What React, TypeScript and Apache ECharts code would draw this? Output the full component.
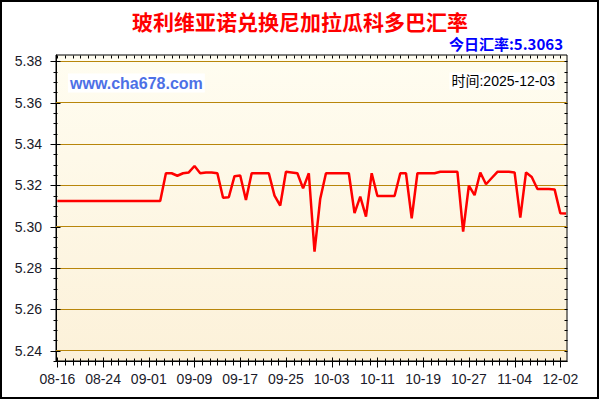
import React, { useEffect, useRef } from 'react';
import * as echarts from 'echarts';

const titleText = '玻利维亚诺兑换尼加拉瓜科多巴汇率';
const todayText = '今日汇率:5.3063';
const siteText = 'www.cha678.com';
const timeText = '时间:2025-12-03';

const dates = [
  '08-16','08-17','08-18','08-19','08-20','08-21','08-22','08-23','08-24','08-25',
  '08-26','08-27','08-28','08-29','08-30','08-31','09-01','09-02','09-03','09-04',
  '09-05','09-06','09-07','09-08','09-09','09-10','09-11','09-12','09-13','09-14',
  '09-15','09-16','09-17','09-18','09-19','09-20','09-21','09-22','09-23','09-24',
  '09-25','09-26','09-27','09-28','09-29','09-30','10-01','10-02','10-03','10-04',
  '10-05','10-06','10-07','10-08','10-09','10-10','10-11','10-12','10-13','10-14',
  '10-15','10-16','10-17','10-18','10-19','10-20','10-21','10-22','10-23','10-24',
  '10-25','10-26','10-27','10-28','10-29','10-30','10-31','11-01','11-02','11-03',
  '11-04','11-25','11-26','11-27','11-28','11-29','11-30','12-01','12-02','12-03',
];

const rates = [
  5.3124,5.3124,5.3124,5.3124,5.3124,5.3124,5.3124,5.3124,5.3124,5.3124,
  5.3124,5.3124,5.3124,5.3124,5.3124,5.3124,5.3124,5.3124,5.3124,5.3258,
  5.3258,5.3246,5.3258,5.3262,5.3293,5.3258,5.3262,5.3262,5.3258,5.3140,
  5.3142,5.3244,5.3247,5.3129,5.3258,5.3258,5.3258,5.3258,5.3150,5.3102,
  5.3265,5.3262,5.3258,5.3185,5.3258,5.2879,5.3135,5.3258,5.3258,5.3258,
  5.3258,5.3258,5.3065,5.3145,5.3048,5.3258,5.3148,5.3148,5.3148,5.3148,
  5.3258,5.3258,5.3040,5.3258,5.3258,5.3258,5.3258,5.3265,5.3265,5.3265,
  5.3265,5.2976,5.3198,5.3152,5.3262,5.3205,5.3235,5.3265,5.3265,5.3265,
  5.3262,5.3043,5.3262,5.3240,5.3182,5.3182,5.3182,5.3180,5.3065,5.3063,
];

const yTickLabels = [5.24, 5.26, 5.28, 5.30, 5.32, 5.34, 5.36, 5.38];
const xLabelIndices = [0, 8, 16, 24, 32, 40, 48, 56, 64, 72, 80, 88];

const Y_MIN = 5.235;
const Y_MAX = 5.383;
const X_MIN = -0.23;
const X_MAX = 89.17;

const yMinorTicks: number[] = [];
for (let k = 0; k <= 29; k++) yMinorTicks.push(+(Y_MIN + k * 0.005).toFixed(3));
const xMinorTicks: number[] = [];
for (let k = 0; k <= 66; k++) xMinorTicks.push((k * 4) / 3);

const FONT = '"Liberation Sans", Arial, "Noto Sans CJK SC", sans-serif';
const CJK = '"Noto Sans CJK SC", "Liberation Sans", sans-serif';

type TickDir = 'left' | 'right' | 'bottom' | 'top';

function tickSeries(values: number[], dir: TickDir, outLen: number, inLen: number) {
  const horizontal = dir === 'left' || dir === 'right';
  const data = values.map((v) => {
    if (dir === 'left') return [X_MIN, v];
    if (dir === 'right') return [X_MAX, v];
    if (dir === 'bottom') return [v, Y_MIN];
    return [v, Y_MAX];
  });
  return {
    type: 'custom',
    silent: true,
    clip: false,
    z: 6,
    data,
    renderItem: (_params: any, api: any) => {
      const p = api.coord([api.value(0), api.value(1)]);
      let shape;
      if (horizontal) {
        const y = Math.round(p[1]) + 0.5;
        const sign = dir === 'left' ? -1 : 1;
        const x0 = Math.round(p[0]) + 0.5;
        shape = { x1: x0 + sign * outLen, y1: y, x2: x0 - sign * inLen, y2: y };
      } else {
        const x = Math.round(p[0]) + 0.5;
        const sign = dir === 'bottom' ? 1 : -1;
        const y0 = Math.round(p[1]) + 0.5;
        shape = { x1: x, y1: y0 + sign * outLen, x2: x, y2: y0 - sign * inLen };
      }
      return { type: 'line', shape, style: { stroke: '#000', lineWidth: 1 } };
    },
  };
}

export default function App() {
  const ref = useRef<HTMLDivElement>(null);
  useEffect(() => {
    if (!ref.current) return;
    const chart = echarts.init(ref.current, undefined, { renderer: 'svg' });
    chart.setOption({
      animation: false,
      backgroundColor: '#ffffff',
      grid: {
        left: 56, right: 33, top: 55, bottom: 39,
        show: true,
        borderColor: '#000', borderWidth: 1,
        backgroundColor: new echarts.graphic.LinearGradient(0, 0, 0, 1, [
          { offset: 0, color: '#fffdf1' },
          { offset: 1, color: '#fcf1d9' },
        ]),
      },
      xAxis: {
        type: 'value', min: X_MIN, max: X_MAX, position: 'bottom',
        splitLine: { show: false },
        axisLine: { show: true, onZero: false, lineStyle: { color: '#000' } },
        axisTick: { show: false },
        axisLabel: {
          show: true, customValues: xLabelIndices, margin: 11,
          formatter: (v: number) => dates[Math.round(v)] ?? '',
          color: '#1a1a2a', fontSize: 14, fontFamily: FONT,
        },
      },
      yAxis: {
        type: 'value', min: Y_MIN, max: Y_MAX, position: 'left',
        splitLine: { show: false },
        axisLine: { show: true, onZero: false, lineStyle: { color: '#000' } },
        axisTick: { show: false },
        axisLabel: {
          show: true, customValues: yTickLabels, margin: 14,
          formatter: (v: number) => v.toFixed(2),
          color: '#1a1a2a', fontSize: 14, fontFamily: FONT,
        },
      },
      series: [
        {
          type: 'line',
          data: rates.map((v, i) => [i, v]),
          showSymbol: false,
          symbol: 'none',
          lineStyle: { color: '#ff0000', width: 2.5 },
          markLine: {
            silent: true,
            symbol: 'none',
            label: { show: false },
            lineStyle: { color: '#b8860b', type: 'solid', width: 1 },
            data: yTickLabels.map((v) => ({ yAxis: v })),
          },
          z: 5,
        },
        tickSeries(yMinorTicks, 'left', 3, 1),
        tickSeries(yTickLabels, 'left', 6, 4),
        tickSeries(yMinorTicks, 'right', 0, 3),
        tickSeries(xMinorTicks, 'bottom', 4, 3),
        tickSeries(xLabelIndices, 'bottom', 6, 4),
        tickSeries(xMinorTicks, 'top', 0, 3),
      ],
      graphic: [
        {
          type: 'rect', silent: true,
          shape: { x: 1, y: 1, width: 597, height: 397 },
          style: { fill: 'none', stroke: '#000', lineWidth: 2 },
        },
        {
          type: 'text', x: 300, y: 21,
          style: {
            text: titleText, textAlign: 'center', textVerticalAlign: 'middle',
            fontSize: 21, fontWeight: 'bold', fontFamily: CJK, fill: '#ff0000',
          },
        },
        {
          type: 'text', x: 563, y: 43,
          style: {
            text: todayText, textAlign: 'right', textVerticalAlign: 'middle',
            fontSize: 15, fontWeight: 'bold', fontFamily: CJK, fill: '#0000ff',
          },
        },
        {
          type: 'text', x: 68, y: 83, z: 10,
          style: {
            text: siteText, textAlign: 'left', textVerticalAlign: 'middle',
            fontSize: 16, fontWeight: 'bold', fontFamily: FONT, fill: '#4d70e6',
            backgroundColor: '#ffffff', padding: [2, 2, 1, 2],
          },
        },
        {
          type: 'text', x: 557, y: 81, z: 10,
          style: {
            text: timeText, textAlign: 'right', textVerticalAlign: 'middle',
            fontSize: 14, fontFamily: FONT, fill: '#000000',
            backgroundColor: '#ffffff', padding: [2, 2, 1, 2],
          },
        },
      ],
    });
    return () => chart.dispose();
  }, []);
  return <div ref={ref} style={{ position: 'absolute', left: 0, top: 0, width: 600, height: 400 }} />;
}
